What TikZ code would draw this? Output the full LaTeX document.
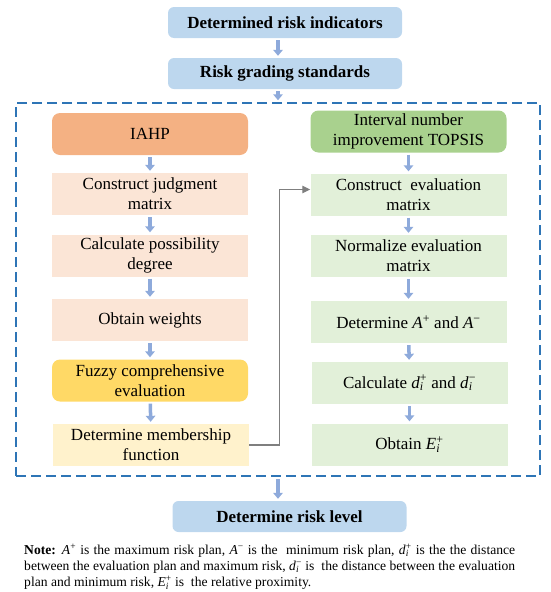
\documentclass[tikz,border=0pt]{standalone}
\usepackage{fontspec}
\setmainfont{Liberation Serif}
\usetikzlibrary{arrows.meta}

\definecolor{hdblue}{HTML}{BDD7EE}
\definecolor{arrblue}{HTML}{8EAADB}
\definecolor{frameblue}{HTML}{2E75B6}
\definecolor{ahporange}{HTML}{F4B183}
\definecolor{ahplight}{HTML}{FBE5D6}
\definecolor{fuzzyyellow}{HTML}{FFD966}
\definecolor{fuzzylight}{HTML}{FFF2CC}
\definecolor{topgreen}{HTML}{A9D18E}
\definecolor{toplight}{HTML}{E2F0D9}
\definecolor{linkgray}{HTML}{7F7F7F}

\newcommand{\Aplus}{\textit{A}\textsuperscript{+}}
\newcommand{\Aminus}{\textit{A}\textsuperscript{−}}
\newcommand{\dplus}{\textit{d}\rlap{\textsubscript{\textit{i}}}\textsuperscript{+}}
\newcommand{\dminus}{\textit{d}\rlap{\textsubscript{\textit{i}}}\textsuperscript{−}}
\newcommand{\Eplus}{\textit{E}\rlap{\textsubscript{\textit{i}}}\textsuperscript{+}}

\tikzset{
  box/.style={minimum width=196pt, minimum height=42pt, inner sep=0pt,
    align=center, font=\fontsize{17}{20}\selectfont},
  headbox/.style={box, rounded corners=8pt},
  mainbox/.style={minimum width=234pt, minimum height=31pt, inner sep=0pt,
    rounded corners=6pt, fill=hdblue, font=\fontsize{17}{20}\selectfont\bfseries},
  flow/.style={draw=arrblue, line width=3.5pt, -{Triangle[width=9.5pt,length=6pt]},
    shorten <=2pt, shorten >=2pt},
  link/.style={draw=linkgray, line width=1.3pt, -{Triangle[width=7.5pt,length=8pt]}}
}

\begin{document}
\begin{tikzpicture}[x=1pt,y=-1pt]
    \useasboundingbox (0,0) rectangle (550,592);

    \node[mainbox] (ind)   at (285,22.5) {Determined risk indicators};
    \node[mainbox] (grade) at (285,73.5) {Risk grading standards};

    \node[draw=frameblue, line width=1.5pt, dash pattern=on 10pt off 5pt,
        minimum width=524pt, minimum height=373pt, inner sep=0pt]
        (frame) at (278,289.5) {};

    % IAHP side
    \node[headbox, fill=ahporange] (iahp)  at (150,134)   {IAHP};
    \node[box, fill=ahplight]      (judge) at (150,194)   {Construct judgment\\matrix};
    \node[box, fill=ahplight]      (poss)  at (150,255.5) {Calculate possibility\\degree};
    \node[box, fill=ahplight]      (wts)   at (150,320)   {Obtain weights};
    \node[headbox, fill=fuzzyyellow] (fuzzy) at (150,380.5) {Fuzzy comprehensive\\evaluation};
    \node[box, fill=fuzzylight]    (memb)  at (151,445)   {Determine membership\\function};

    % TOPSIS side
    \node[headbox, fill=topgreen] (topsis) at (408.5,131.5) {Interval number\\improvement TOPSIS};
    \node[box, fill=toplight]     (ceval)  at (408.5,194.5) {Construct\ \ evaluation\\matrix};
    \node[box, fill=toplight]     (neval)  at (408.5,256)   {Normalize evaluation\\matrix};
    \node[box, fill=toplight]     (ideal)  at (408.5,322)   {Determine \Aplus{} and \Aminus};
    \node[box, fill=toplight]     (dist)   at (409.5,383)   {Calculate \dplus{} and \dminus};
    \node[box, fill=toplight]     (close)  at (409.5,444.5) {Obtain \Eplus};

    \node[mainbox] (level) at (289.5,516.5) {Determine risk level};

    \draw[flow] (ind.south -| frame.north) -- (grade.north -| frame.north);
    \draw[flow] (grade.south -| frame.north) -- (frame.north);
    \draw[flow] (frame.south) -- (level.north -| frame.south);

    \draw[flow] (iahp) -- (judge);
    \draw[flow] (judge) -- (poss);
    \draw[flow] (poss) -- (wts);
    \draw[flow] (wts) -- (fuzzy);
    \draw[flow] (fuzzy) -- (memb);

    \draw[flow] (topsis) -- (ceval);
    \draw[flow] (ceval) -- (neval);
    \draw[flow] (neval) -- (ideal);
    \draw[flow] (ideal) -- (dist);
    \draw[flow] (dist) -- (close);

    \draw[link] (memb.east) -- ++(30,0) |- ([yshift=5pt]ceval.west);

    \node[anchor=north west, inner sep=0pt, align=left,
        font=\fontsize{13.6}{16.3}\selectfont] (note) at (24,543.5)
        {\makebox[491pt][s]{\textbf{Note:} \Aplus{} is the maximum risk plan, \Aminus{} is the\ \ minimum risk plan, \dplus{} is the the distance}\\
         \makebox[491pt][s]{between the evaluation plan and maximum risk, \dminus{} is\ \ the distance between the evaluation}\\
         plan and minimum risk, \Eplus{} is\ \ the relative proximity.};
\end{tikzpicture}
\end{document}
